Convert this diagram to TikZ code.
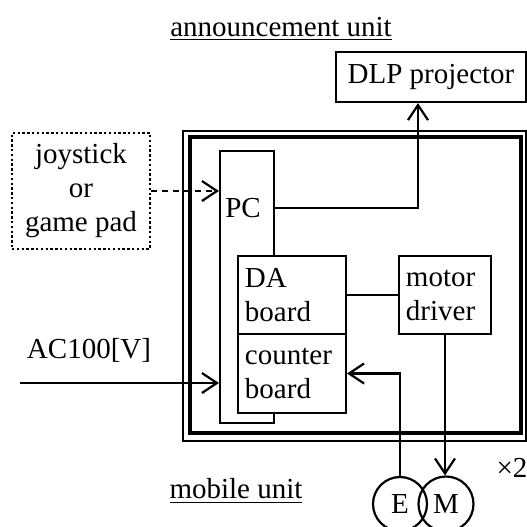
\documentclass[tikz,border=0pt]{standalone}
\usepackage{fontspec}
\setmainfont{Liberation Serif}
\usetikzlibrary{arrows.meta}
\tikzset{
  txt/.style   ={font=\fontsize{14.5}{17}\selectfont, inner sep=0pt},
  blk/.style   ={draw, line width=1.1pt, fill=white,
                 font=\fontsize{14.5}{17}\selectfont},
  lblk/.style  ={blk, align=left, inner xsep=3.5pt, inner ysep=0pt},
  dotbox/.style={draw, line width=1.4pt, dash pattern=on 1.2pt off 1.2pt,
                 align=center, font=\fontsize{14.5}{17}\selectfont},
  enc/.style   ={draw, circle, inner sep=0pt, line width=1.1pt,
                 font=\fontsize{14.5}{17}\selectfont},
  sig/.style   ={-{Straight Barb[length=7.5pt, width=10pt]}, line width=1.1pt},
  ctl/.style   ={sig, dash pattern=on 3pt off 2.5pt},
  wire/.style  ={line width=1.1pt},
}
\begin{document}
\begin{tikzpicture}[x=0.5pt, y=-0.5pt]
  \useasboundingbox (0,0) rectangle (527,527);
  % mobile unit frame
  \draw[line width=1.2pt] (183,131) rectangle (526,441);
  \draw[line width=1.8pt] (190,137) rectangle (521,433);
  \node[txt] (ann) at (281,29) {\underline{announcement unit}};
  \node[blk, minimum width=95pt, minimum height=25pt] (dlp) at (431,77)
    {DLP projector};
  \node[dotbox, minimum width=69pt, minimum height=58pt] (joy) at (81,191)
    {joystick\\or\\game pad};
  \node[blk, minimum width=27pt, minimum height=136pt] (pc) at (247,287) {};
  \node[txt] (pclab) at (243,208) {PC};
  \node[lblk, text width=47pt, minimum height=39pt]   (da)  at (292,295)
    {DA\\board};
  \node[lblk, text width=47pt, minimum height=39.5pt] (cnt) at (292,373.5)
    {counter\\board};
  \node[lblk, text width=39pt, minimum height=39pt]   (mot) at (445,295)
    {motor\\driver};
  \node[enc, minimum size=27pt]   (enc) at (400,504) {E};
  \node[enc, minimum size=27.5pt] (mtr) at (446,504) {M};
  \node[txt] (ac)  at (89,350)  {AC100[V]};
  \node[txt] (mob) at (236,491) {\underline{mobile unit}};
  \node[txt] (two) at (512,468) {×2};
  % connections
  \coordinate (dlpin) at ([xshift=-6.5pt]dlp.south);
  \coordinate (acin)  at (20,383);
  \draw[ctl]  (joy.east) -- (pc.west |- joy.east);
  \draw[sig]  (pc.east |- pclab) -| (dlpin);
  \draw[wire] (da) -- (mot);
  \draw[sig]  (acin) -- (acin -| pc.west);
  \draw[sig]  (enc.north) |- (cnt.east);
  \draw[sig]  (mot.south) -- (mot.south |- mtr.north);
\end{tikzpicture}
\end{document}
